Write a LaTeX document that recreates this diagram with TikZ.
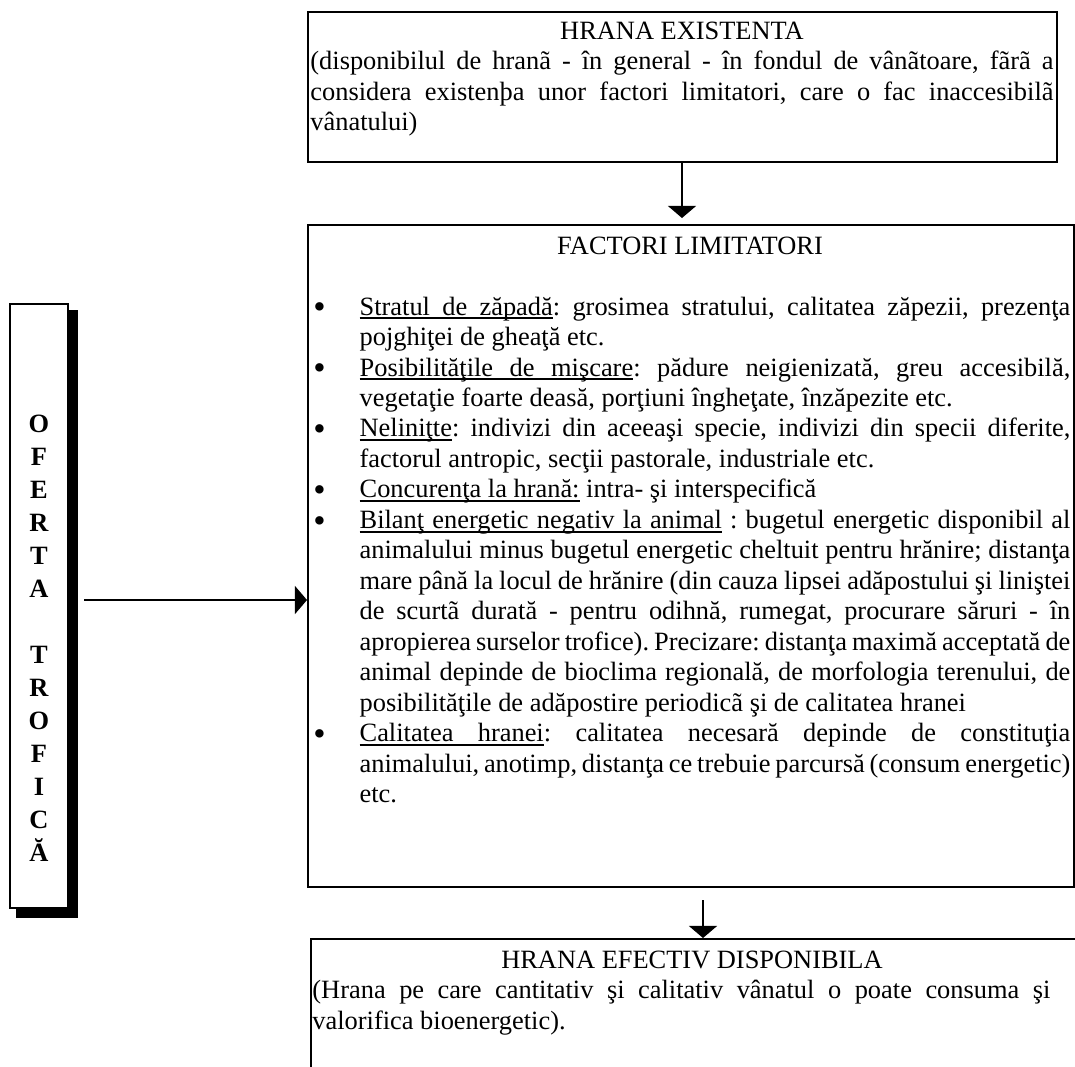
\documentclass[tikz,border=0pt]{standalone}
\usepackage{fontspec}
\setmainfont{Liberation Serif}
\usetikzlibrary{arrows.meta,fit}
\frenchspacing
\newcommand\uw[1]{\setbox0\hbox{#1}\rlap{\vrule height -1.1pt depth 1.9pt width \wd0}\box0\relax}
\newcommand\us{\leaders\hrule height -1.1pt depth 1.9pt\hskip\fontdimen2\font plus\fontdimen3\font minus\fontdimen4\font\relax}
\newcommand\bul{\makebox[21pt][l]{\raisebox{-1.6pt}[0pt][0pt]{\fontsize{16pt}{16pt}\selectfont •}}}
\begin{document}
\begin{tikzpicture}[x=0.4545pt,y=-0.4545pt,
  box/.style={draw,line width=0.9pt,inner sep=0pt},
  arr/.style={line width=0.9pt,-{Triangle[length=5.5pt,width=12.7pt]}},
  txt/.style={inner sep=0pt,anchor=base west,font=\fontsize{12pt}{13.86pt}\selectfont},
  ttl/.style={inner sep=0pt,anchor=base,font=\fontsize{12pt}{13.86pt}\selectfont}]
\clip (0,0) rectangle (1075,1066);
\fill[white] (0,0) rectangle (1075,1066);

% boxes
\node[box,fit={(308,12)(1057,162)}] (b1) {};
\node[box,fit={(308,225)(1074,887)}] (b2) {};
\node[box,fit={(311,939)(1090,1090)}] (b3) {};

% left box with shadow
\fill[black] (68,310) rectangle (78,918);
\fill[black] (16,908) rectangle (78,918);
\node[draw,line width=0.7pt,fill=white,inner sep=0pt,fit={(10,304)(68,908)}] (lb) {};
\node[inner sep=0pt,anchor=base] (lbt) at (39,432) {\parbox[t]{20pt}{\centering\fontsize{12pt}{15pt}\selectfont\bfseries
O\\F\\E\\R\\T\\A\\\mbox{}\\T\\R\\O\\F\\I\\C\\Ă}};

% box 1 text
\node[ttl] (t1h) at (682,39) {HRANA EXISTENTA};
\node[txt] (t1) at (310,69.5) {\parbox[t]{337.7pt}{(disponibilul de hranã - în general - în fondul de vânãtoare, fãrã a\linebreak
considera existenþa unor factori limitatori, care o fac inaccesibilã\linebreak
vânatului)}};

% box 2 text
\node[ttl] (t2h) at (690,254) {FACTORI LIMITATORI};
\node[txt] (t2) at (313,315) {\parbox[t]{344pt}{\emergencystretch=2em
\def\itm{\par\noindent\hangindent=21pt\hangafter=1\bul}%
\itm\uw{Stratul}\us\uw{de}\us\uw{zăpadă}: grosimea stratului, calitatea zăpezii, prezenţa\linebreak
pojghiţei de gheaţă etc.
\itm\uw{Posibilităţile}\us\uw{de}\us\uw{mişcare}: pădure neigienizată, greu accesibilă,\linebreak
vegetaţie foarte deasă, porţiuni îngheţate, înzăpezite etc.
\itm\uw{Neliniţte}: indivizi din aceeaşi specie, indivizi din specii diferite,\linebreak
factorul antropic, secţii pastorale, industriale etc.
\itm\uw{Concurenţa}\us\uw{la}\us\uw{hrană:} intra- şi interspecifică
\itm\uw{Bilanţ}\us\uw{energetic}\us\uw{negativ}\us\uw{la}\us\uw{animal} : bugetul energetic disponibil al\linebreak
animalului minus bugetul energetic cheltuit pentru hrănire; distanţa\linebreak
mare până la locul de hrănire (din cauza lipsei adăpostului şi liniştei\linebreak
de scurtã durată - pentru odihnă, rumegat, procurare săruri - în\linebreak
apropierea surselor trofice). Precizare: distanţa maximă acceptată de\linebreak
animal depinde de bioclima regională, de morfologia terenului, de\linebreak
posibilităţile de adăpostire periodicã şi de calitatea hranei
\itm\uw{Calitatea}\us\uw{hranei}: calitatea necesară depinde de constituţia\linebreak
animalului, anotimp, distanţa ce trebuie parcursă (consum energetic)\linebreak
etc.}};

% box 3 text
\node[ttl] (t3h) at (692,968) {HRANA EFECTIV DISPONIBILA};
\node[txt] (t3) at (312,998.5) {\parbox[t]{335.4pt}{(Hrana pe care cantitativ şi calitativ vânatul o poate consuma şi\linebreak
valorifica bioenergetic).}};

% connectors
\coordinate (a1) at (682,218);
\draw[arr] (b1.south -| a1) -- (a1);
\coordinate (a2s) at (703,900);
\coordinate (a2e) at (703,938);
\draw[arr] (a2s) -- (a2e);
\coordinate (h0) at (84,600);
\draw[arr] (h0) -- (b2.west |- h0);
\end{tikzpicture}
\end{document}
